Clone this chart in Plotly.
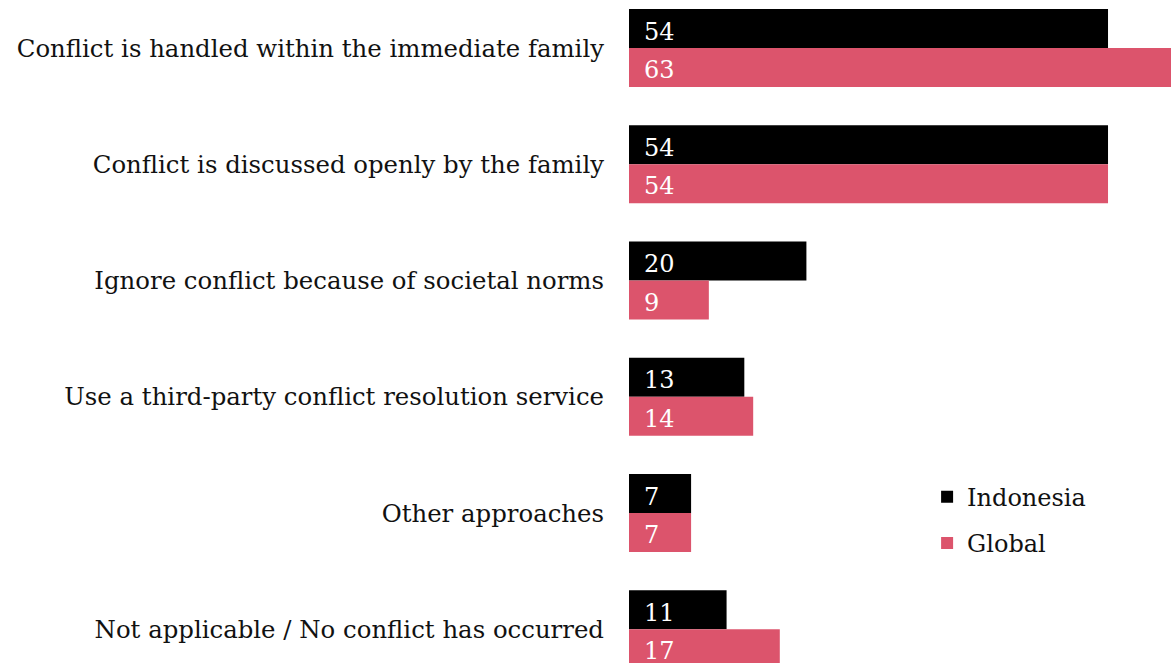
import plotly.graph_objects as go

categories = [
    "Conflict is handled within the immediate family",
    "Conflict is discussed openly by the family",
    "Ignore conflict because of societal norms",
    "Use a third-party conflict resolution service",
    "Other approaches",
    "Not applicable / No conflict has occurred",
]
indonesia = [54, 54, 20, 13, 7, 11]
global_vals = [63, 54, 9, 14, 7, 17]

FONT = "DejaVu Serif"
BLACK = "#000000"
PINK = "#DC546C"

fig = go.Figure()
fig.add_trace(go.Bar(
    y=categories, x=indonesia, orientation="h", name="Indonesia",
    marker=dict(color=BLACK, line=dict(width=0)), legendgroup="a",
))
fig.add_trace(go.Bar(
    y=categories, x=global_vals, orientation="h", name="Global",
    marker=dict(color=PINK, line=dict(width=0)), legendgroup="b",
))

# value labels at the start of each bar
for cat, vi, vg in zip(categories, indonesia, global_vals):
    for val, shift in ((vi, 16.5), (vg, -22.0)):
        fig.add_annotation(
            x=0, y=cat, xref="x", yref="y", text=str(val), showarrow=False,
            xanchor="left", yanchor="middle", xshift=13, yshift=shift,
            font=dict(family=FONT, size=24, color="white"),
        )

fig.update_layout(
    width=1171, height=663,
    margin=dict(l=629, r=0, t=0, b=0),
    paper_bgcolor="white", plot_bgcolor="white",
    barmode="group", bargap=0.33, bargroupgap=0,
    font=dict(family=FONT, size=24, color="#111111"),
    showlegend=True,
    legend=dict(
        x=0.55, y=0.284, xanchor="left", yanchor="top",
        font=dict(family=FONT, size=24, color="#111111"),
        traceorder="grouped", tracegroupgap=12,
        bgcolor="rgba(0,0,0,0)", itemwidth=30,
    ),
    xaxis=dict(range=[0, 61.1], visible=False, fixedrange=True),
    yaxis=dict(
        categoryorder="array", categoryarray=categories,
        range=[5.29, -0.413], showgrid=False, zeroline=False, showline=False,
        ticks="", ticklabelstandoff=24,
        tickfont=dict(family=FONT, size=24.4, color="#111111"),
    ),
)

fig.write_html("out.html")
